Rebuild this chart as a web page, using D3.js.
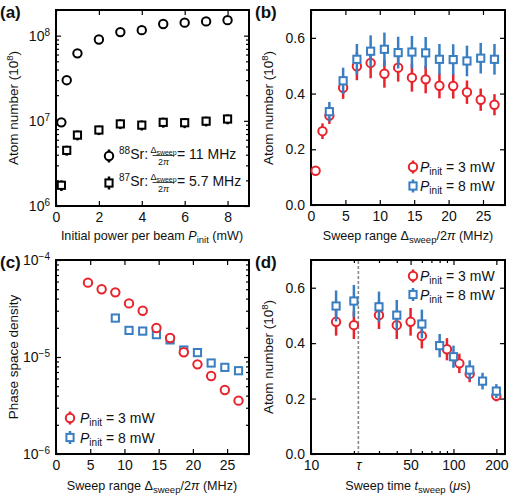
<!DOCTYPE html>
<html><head><meta charset="utf-8">
<script src="https://cdn.jsdelivr.net/npm/d3@7"></script>
<style>
body{margin:0;background:#fff}
svg text{font-family:"Liberation Sans",Arial,Helvetica,sans-serif;fill:#111}
</style></head><body>
<svg id="fig" width="511" height="500"></svg>
<script>
// ---- data ----
// (a) atom number vs initial power
var powerA = [0.25, 0.5, 1, 2, 3, 4, 5, 6, 7, 8];
var sr88 = [9.6e6, 3.0e7, 6.2e7, 9.0e7, 1.1e8, 1.16e8, 1.37e8, 1.42e8, 1.47e8, 1.52e8];
var sr88Err = [0.6e6, 2e6, 4e6, 6e6, 7e6, 7e6, 8e6, 8e6, 9e6, 9e6];
var sr87 = [1.75e6, 4.5e6, 6.8e6, 7.8e6, 9.2e6, 8.9e6, 9.6e6, 9.5e6, 9.9e6, 1.05e7];
var sr87Err = [0.25e6, 0.6e6, 0.9e6, 1.0e6, 1.2e6, 1.2e6, 1.3e6, 1.3e6, 1.3e6, 1.4e6];

// (b) atom number vs sweep range
var rangeB3 = [0.67, 1.67, 2.67, 4.67, 6.67, 8.67, 10.67, 12.67, 14.67, 16.67, 18.67, 20.67, 22.67, 24.67, 26.67];
var atomB3 = [0.123, 0.265, 0.321, 0.421, 0.498, 0.51, 0.471, 0.493, 0.457, 0.451, 0.428, 0.427, 0.405, 0.378, 0.36];
var atomB3Err = [0.008, 0.028, 0.03, 0.04, 0.05, 0.055, 0.05, 0.05, 0.05, 0.05, 0.045, 0.045, 0.042, 0.04, 0.038];
var rangeB8 = [2.67, 4.67, 6.67, 8.67, 10.67, 12.67, 14.67, 16.67, 18.67, 20.67, 22.67, 24.67, 26.67];
var atomB8 = [0.335, 0.446, 0.523, 0.552, 0.559, 0.547, 0.549, 0.546, 0.523, 0.522, 0.517, 0.527, 0.523];
var atomB8Err = [0.035, 0.047, 0.055, 0.057, 0.06, 0.057, 0.058, 0.057, 0.055, 0.055, 0.055, 0.055, 0.055];

// (c) phase space density vs sweep range
var rangeC3 = [4.67, 6.67, 8.67, 10.67, 12.67, 14.67, 16.67, 18.67, 20.67, 22.67, 24.67, 26.67];
var psd3 = [5.84e-5, 4.99e-5, 4.64e-5, 3.57e-5, 3.0e-5, 1.99e-5, 1.57e-5, 1.12e-5, 8.4e-6, 6.37e-6, 4.57e-6, 3.55e-6];
var psd3Err = [4e-6, 3.5e-6, 3.5e-6, 2.5e-6, 2.2e-6, 1.5e-6, 1.2e-6, 0.9e-6, 0.7e-6, 0.5e-6, 0.4e-6, 0.3e-6];
var rangeC8 = [8.67, 10.67, 12.67, 14.67, 16.67, 18.67, 20.67, 22.67, 24.67, 26.67];
var psd8 = [2.52e-5, 1.88e-5, 1.85e-5, 1.70e-5, 1.50e-5, 1.18e-5, 1.11e-5, 8.67e-6, 7.82e-6, 7.22e-6];
var psd8Err = [2.2e-6, 1.6e-6, 1.6e-6, 1.5e-6, 1.3e-6, 1.0e-6, 1.0e-6, 0.8e-6, 0.7e-6, 0.7e-6];

// (d) atom number vs sweep time
var timeD3 = [15, 20, 30, 40, 50, 60, 90, 110, 130, 200];
var atomD3 = [0.477, 0.465, 0.501, 0.465, 0.477, 0.426, 0.378, 0.327, 0.289, 0.21];
var atomD3Err = [0.05, 0.05, 0.05, 0.05, 0.05, 0.045, 0.04, 0.035, 0.03, 0.02];
var timeD8 = [15, 20, 30, 40, 60, 80, 100, 130, 160, 200];
var atomD8 = [0.534, 0.552, 0.531, 0.501, 0.469, 0.391, 0.351, 0.303, 0.263, 0.227];
var atomD8Err = [0.056, 0.058, 0.055, 0.055, 0.052, 0.042, 0.04, 0.035, 0.03, 0.025];
var tau = 21.5;

// ticks
var ticksA = [0, 2, 4, 6, 8];
var ticksRange = [0, 5, 10, 15, 20, 25];
var ticksAtom = [0, 0.2, 0.4, 0.6];
var ticksTime = [10, 50, 100, 200];
var minorTime = [20, 30, 40, 60, 70, 80, 90];

var red = "#e8232b", blue = "#3a7ec2";
var FS = 14, FX = 12.6, FY = 13.5;

var svg = d3.select("#fig");
svg.append("rect").attr("width", 511).attr("height", 500).attr("fill", "#fff");

function logMinor(lo, hi) {
    var out = [];
    for (var e = lo; e < hi; e++) for (var m = 2; m <= 9; m++) out.push(m * Math.pow(10, e));
    return out;
}

function addAxis(g, gen, values, size, tr, fmt) {
    var a = gen.tickValues(values).tickSize(size).tickPadding(6).tickFormat(fmt || function(){ return ""; });
    var s = g.append("g").call(a);
    if (tr) s.attr("transform", tr);
    s.select(".domain").remove();
    s.attr("font-family", null).attr("font-size", FS);
    s.selectAll("line").attr("stroke", "#000").attr("stroke-width", 1.2);
    s.selectAll("text").attr("fill", "#111");
    return s;
}

function powLabels(s) {
    s.selectAll(".tick text").each(function(d) {
        var e = Math.round(Math.log10(d));
        var t = d3.select(this);
        t.text("10");
        t.append("tspan").attr("dy", "-0.5em").attr("font-size", 10).text(e < 0 ? "\u2212" + (-e) : e);
    });
}

function panel(box, x, y, o) {
    var g = svg.append("g").attr("transform", "translate(" + box.left + "," + box.top + ")");
    var w = box.w, h = box.h;
    addAxis(g, d3.axisBottom(x), o.xTicks, -5, "translate(0," + h + ")", o.xFmt || d3.format("~g"));
    addAxis(g, d3.axisTop(x), o.xTicks, -5);
    if (o.xMinor) {
        addAxis(g, d3.axisBottom(x), o.xMinor, -3, "translate(0," + h + ")");
        addAxis(g, d3.axisTop(x), o.xMinor, -3);
    }
    var left = addAxis(g, d3.axisLeft(y), o.yTicks, -5, null, o.yLog ? function(d){ return d; } : d3.format(".1f"));
    if (o.yLog) powLabels(left);
    addAxis(g, d3.axisRight(y), o.yTicks, -5, "translate(" + w + ",0)");
    if (o.yMinor) {
        addAxis(g, d3.axisLeft(y), o.yMinor, -3);
        addAxis(g, d3.axisRight(y), o.yMinor, -3, "translate(" + w + ",0)");
    }
    g.append("rect").attr("width", w).attr("height", h)
        .attr("fill", "none").attr("stroke", "#000").attr("stroke-width", 2);
    return g;
}

function series(g, x, y, xs, ys, es, color, shape) {
    var pts = xs.map(function(v, i){ return {x: v, y: ys[i], e: es[i]}; });
    g.append("g").selectAll("line").data(pts).join("line")
        .attr("x1", function(d){ return x(d.x); })
        .attr("x2", function(d){ return x(d.x); })
        .attr("y1", function(d){ return y(d.y - d.e); })
        .attr("y2", function(d){ return y(d.y + d.e); })
        .attr("stroke", color).attr("stroke-width", 2.5);
    marker(g.append("g").selectAll("g").data(pts).join("g")
        .attr("transform", function(d){ return "translate(" + x(d.x) + "," + y(d.y) + ")"; }), color, shape);
}

function marker(sel, color, shape) {
    if (shape == "circle") {
        sel.append("circle").attr("r", 4.2);
    } else {
        sel.append("rect").attr("x", -3.6).attr("y", -3.6).attr("width", 7.2).attr("height", 7.2);
    }
    sel.selectAll("circle,rect").attr("fill", "#fff").attr("stroke", color).attr("stroke-width", 2);
}

function legendMark(g, cx, cy, color, shape) {
    g.append("line").attr("x1", cx).attr("x2", cx).attr("y1", cy - 6.5).attr("y2", cy + 6.5)
        .attr("stroke", color).attr("stroke-width", 2.5);
    marker(g.append("g").attr("transform", "translate(" + cx + "," + cy + ")"), color, shape);
}

function pinit(g, x, y, mw) {
    var t = g.append("text").attr("x", x).attr("y", y).attr("font-size", FS);
    t.append("tspan").attr("font-style", "italic").text("P");
    t.append("tspan").attr("font-size", 10).attr("dy", 3).text("init");
    t.append("tspan").attr("dy", -3).text(" = " + mw + " mW");
}

function sweepLabel(t) {
    t.append("tspan").text("Sweep range \u0394");
    t.append("tspan").attr("font-size", 9.5).attr("dy", 3).text("sweep");
    t.append("tspan").attr("dy", -3).text("/2");
    t.append("tspan").attr("font-style", "italic").text("\u03c0");
    t.append("tspan").text(" (MHz)");
}

function yLabel(x, y, build) {
    var t = svg.append("text").attr("transform", "translate(" + x + "," + y + ") rotate(-90)")
        .attr("text-anchor", "middle").attr("font-size", FY);
    build(t);
}

function atomLabel(t) {
    t.append("tspan").text("Atom number (10");
    t.append("tspan").attr("font-size", 9.5).attr("dy", -5).text("8");
    t.append("tspan").attr("dy", 5).text(")");
}

function xLabel(x, y) {
    return svg.append("text").attr("x", x).attr("y", y).attr("text-anchor", "middle").attr("font-size", FX);
}

function panelTag(x, y, s) {
    svg.append("text").attr("x", x).attr("y", y).attr("font-size", 17).attr("font-weight", "bold").text(s);
}

// ---- panel (a) ----
var boxA = {left: 56, top: 10, w: 193, h: 196};
var xA = d3.scaleLinear().domain([0, 9]).range([0, boxA.w]);
var yA = d3.scaleLog().domain([1e6, 2e8]).range([boxA.h, 0]);
var gA = panel(boxA, xA, yA, {xTicks: ticksA, yTicks: [1e6, 1e7, 1e8], yLog: true, yMinor: logMinor(6, 8).filter(function(v){ return v <= 2e8; })});
series(gA, xA, yA, powerA, sr87, sr87Err, "#000", "square");
series(gA, xA, yA, powerA, sr88, sr88Err, "#000", "circle");

function srLegend(g, cx, cy, iso, val, shape) {
    legendMark(g, cx, cy, "#000", shape);
    var base = cy + 3;
    var t = g.append("text").attr("x", cx + 10).attr("y", base).attr("font-size", FS);
    t.append("tspan").attr("font-size", 10).attr("dy", -5).text(iso);
    t.append("tspan").attr("dy", 5).text("Sr:");
    var fx = cx + 54.5;
    var n = g.append("text").attr("x", fx).attr("y", base - 6).attr("text-anchor", "middle").attr("font-size", 9);
    n.append("tspan").text("\u0394");
    n.append("tspan").attr("font-size", 7).attr("dy", 1.5).text("sweep");
    var dn = g.append("text").attr("x", fx).attr("y", base + 6).attr("text-anchor", "middle").attr("font-size", 9);
    dn.append("tspan").text("2");
    dn.append("tspan").attr("font-style", "italic").text("\u03c0");
    g.append("line").attr("x1", fx - 11).attr("x2", fx + 11).attr("y1", base - 3.5).attr("y2", base - 3.5)
        .attr("stroke", "#111").attr("stroke-width", 0.8);
    g.append("text").attr("x", fx + 13.5).attr("y", base).attr("font-size", FS).text("= " + val + " MHz");
}
srLegend(gA, 53, 146, "88", "11", "circle");
srLegend(gA, 53, 173, "87", "5.7", "square");

panelTag(0, 18, "(a)");
yLabel(18, 108, atomLabel);
var lxA = xLabel(152, 240);
lxA.append("tspan").text("Initial power per beam ");
lxA.append("tspan").attr("font-style", "italic").text("P");
lxA.append("tspan").attr("font-size", 9.5).attr("dy", 3).text("init");
lxA.append("tspan").attr("dy", -3).text(" (mW)");

// ---- panel (b) ----
var boxB = {left: 311, top: 10, w: 194, h: 195};
var xB = d3.scaleLinear().domain([0, 28.2]).range([0, boxB.w]);
var yB = d3.scaleLinear().domain([0, 0.7]).range([boxB.h, 0]);
var gB = panel(boxB, xB, yB, {xTicks: ticksRange, yTicks: ticksAtom});
series(gB, xB, yB, rangeB3, atomB3, atomB3Err, red, "circle");
series(gB, xB, yB, rangeB8, atomB8, atomB8Err, blue, "square");
legendMark(gB, 102, 157, red, "circle");
legendMark(gB, 102, 176, blue, "square");
pinit(gB, 109, 162, 3);
pinit(gB, 109, 181, 8);
panelTag(255, 18, "(b)");
yLabel(273, 108, atomLabel);
sweepLabel(xLabel(408, 240));

// ---- panel (c) ----
var boxC = {left: 56, top: 260, w: 193, h: 194};
var xC = d3.scaleLinear().domain([0, 28.2]).range([0, boxC.w]);
var yC = d3.scaleLog().domain([1e-6, 1e-4]).range([boxC.h, 0]);
var gC = panel(boxC, xC, yC, {xTicks: ticksRange, yTicks: [1e-6, 1e-5, 1e-4], yLog: true, yMinor: logMinor(-6, -4)});
series(gC, xC, yC, rangeC8, psd8, psd8Err, blue, "square");
series(gC, xC, yC, rangeC3, psd3, psd3Err, red, "circle");
legendMark(gC, 14, 158, red, "circle");
legendMark(gC, 14, 177.5, blue, "square");
pinit(gC, 24, 163, 3);
pinit(gC, 24, 182.5, 8);
panelTag(0, 268, "(c)");
yLabel(18, 357, function(t){ t.text("Phase space density"); });
sweepLabel(xLabel(152, 490));

// ---- panel (d) ----
var boxD = {left: 311, top: 260, w: 194, h: 194};
var xD = d3.scaleLog().domain([10, 230]).range([0, boxD.w]);
var yD = d3.scaleLinear().domain([0, 0.7]).range([boxD.h, 0]);
var gD = panel(boxD, xD, yD, {xTicks: ticksTime, xMinor: minorTime, yTicks: ticksAtom, xFmt: d3.format("d")});
// tau marker
addAxis(gD, d3.axisBottom(xD), [tau], 0, "translate(0," + boxD.h + ")", function(){ return "\u03c4"; })
    .selectAll("text").attr("font-style", "italic");
gD.append("line").attr("x1", xD(tau)).attr("x2", xD(tau)).attr("y1", 1).attr("y2", boxD.h - 1)
    .attr("stroke", "#888").attr("stroke-width", 1.6).attr("stroke-dasharray", "3,2");
series(gD, xD, yD, timeD3, atomD3, atomD3Err, red, "circle");
series(gD, xD, yD, timeD8, atomD8, atomD8Err, blue, "square");
legendMark(gD, 102, 16, red, "circle");
legendMark(gD, 102, 34.5, blue, "square");
pinit(gD, 109, 21, 3);
pinit(gD, 109, 39.5, 8);
panelTag(255, 268, "(d)");
yLabel(273, 357, atomLabel);
var lxD = xLabel(408, 490);
lxD.append("tspan").text("Sweep time ");
lxD.append("tspan").attr("font-style", "italic").text("t");
lxD.append("tspan").attr("font-size", 9.5).attr("dy", 3).text("sweep");
lxD.append("tspan").attr("dy", -3).text(" (");
lxD.append("tspan").attr("font-style", "italic").text("\u03bc");
lxD.append("tspan").text("s)");
</script>
</body></html>
